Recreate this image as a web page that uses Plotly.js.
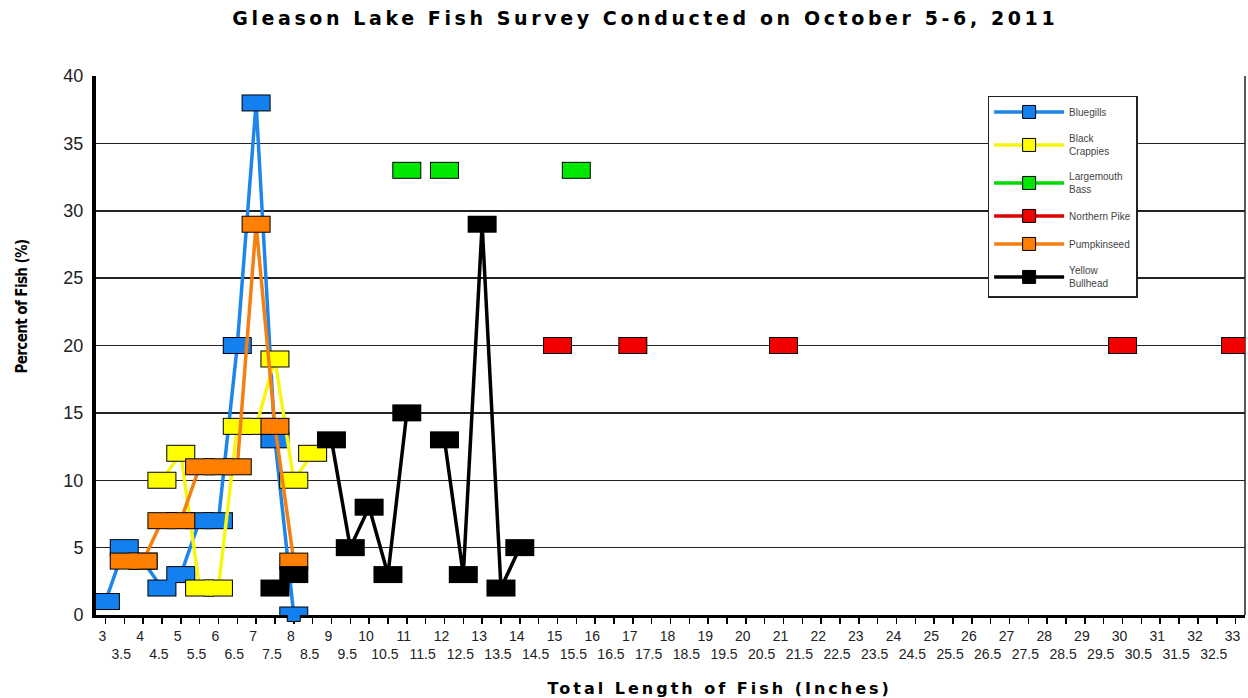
<!DOCTYPE html>
<html>
<head>
<meta charset="utf-8">
<script src="https://cdn.plot.ly/plotly-3.0.1.min.js"></script>
<style>
  html, body { margin: 0; padding: 0; background: #ffffff; }
  #chart { width: 1248px; height: 698px; }
  .gtitle { letter-spacing: 3.6px; }
</style>
</head>
<body>
<div id="chart"></div>
<script>
// ---- categories / tick labels ----
var categories = [3,3.5,4,4.5,5,5.5,6,6.5,7,7.5,8,8.5,9,9.5,10,10.5,11,11.5,12,12.5,13,13.5,14,14.5,15,15.5,16,16.5,17,17.5,18,18.5,19,19.5,20,20.5,21,21.5,22,22.5,23,23.5,24,24.5,25,25.5,26,26.5,27,27.5,28,28.5,29,29.5,30,30.5,31,31.5,32,32.5,33];
var tickLabels = ["3","3.5","4","4.5","5","5.5","6","6.5","7","7.5","8","8.5","9","9.5","10","10.5","11","11.5","12","12.5","13","13.5","14","14.5","15","15.5","16","16.5","17","17.5","18","18.5","19","19.5","20","20.5","21","21.5","22","22.5","23","23.5","24","24.5","25","25.5","26","26.5","27","27.5","28","28.5","29","29.5","30","30.5","31","31.5","32","32.5","33"];

// ---- series (null = empty category, breaks the line) ----
var bluegillsX = [3,3.5,4,4.5,5,5.5,6,6.5,7,7.5,8];
var bluegillsY = [1,5,4,2,3,7,7,20,38,13,0];

var crappiesX = [4.5,5,5.5,6,6.5,7,7.5,8,8.5];
var crappiesY = [10,12,2,2,14,14,19,10,12];

var bassX = [11,11.5,12,12.5,15.5];
var bassY = [33,null,33,null,33];

var pikeX = [15,15.5,17,17.5,21,21.5,30,30.5,33];
var pikeY = [20,null,20,null,20,null,20,null,20];

var pumpkinseedX = [3.5,4,4.5,5,5.5,6,6.5,7,7.5,8];
var pumpkinseedY = [4,4,7,7,11,11,11,29,14,4];

var bullheadX = [7.5,8,8.5,9,9.5,10,10.5,11,11.5,12,12.5,13,13.5,14];
var bullheadY = [2,3,null,13,5,8,3,15,null,13,3,29,2,5];

var seriesNames = ["Bluegills","Black<br>Crappies","Largemouth<br>Bass","Northern Pike","Pumpkinseed","Yellow<br>Bullhead"];

var series = [
  {name: seriesNames[0], x: bluegillsX, y: bluegillsY, fill: '#1480F0', line: '#1E86EA'},
  {name: seriesNames[1], x: crappiesX, y: crappiesY, fill: '#FFFF00', line: '#F6F610'},
  {name: seriesNames[2], x: bassX, y: bassY, fill: '#00E800', line: '#00D800'},
  {name: seriesNames[3], x: pikeX, y: pikeY, fill: '#F20000', line: '#E00000'},
  {name: seriesNames[4], x: pumpkinseedX, y: pumpkinseedY, fill: '#FF7F00', line: '#F57F10'},
  {name: seriesNames[5], x: bullheadX, y: bullheadY, fill: '#000000', line: '#000000'}
];

var traces = [];
series.forEach(function (s, i) {
  var fx = [], fy = [];
  for (var k = 0; k < s.x.length; k++) {
    if (s.y[k] !== null) { fx.push(s.x[k]); fy.push(s.y[k]); }
  }
  // line + legend entry
  traces.push({
    type: 'scatter', mode: 'lines+markers', name: s.name,
    x: s.x, y: s.y, connectgaps: false, cliponaxis: false,
    legendgroup: 'g' + i,
    line: {color: s.line, width: 3.5},
    marker: {symbol: 'square', size: 13, color: s.fill, line: {color: '#000', width: 1}},
    hoverinfo: 'skip'
  });
  // rectangular marker: black outline
  traces.push({
    type: 'scatter', mode: 'markers', x: fx, y: fy, showlegend: false, cliponaxis: false,
    legendgroup: 'g' + i,
    marker: {opacity: 0, size: 2},
    error_x: {type: 'constant', value: 0.385, thickness: 17, width: 0, color: '#000000'},
    hoverinfo: 'skip'
  });
  // rectangular marker: coloured fill
  traces.push({
    type: 'scatter', mode: 'markers', x: fx, y: fy, showlegend: false, cliponaxis: false,
    legendgroup: 'g' + i,
    marker: {opacity: 0, size: 2},
    error_x: {type: 'constant', value: 0.358, thickness: 15, width: 0, color: s.fill},
    hoverinfo: 'skip'
  });
});

var tickText = tickLabels.map(function (t, i) { return i % 2 === 1 ? '<br>' + t : t; });

var layout = {
  width: 1248, height: 698,
  paper_bgcolor: '#ffffff', plot_bgcolor: '#ffffff',
  margin: {l: 96, r: 3, t: 76, b: 83},
  showlegend: true,
  title: {
    text: 'Gleason Lake Fish Survey Conducted on October 5-6, 2011',
    font: {family: 'DejaVu Sans', size: 19, color: '#000', weight: 'bold'},
    xref: 'container', yref: 'container', x: 0.517, xanchor: 'center', y: 0.973, yanchor: 'middle'
  },
  xaxis: {
    range: [2.75, 33.25], fixedrange: true,
    tickmode: 'array', tickvals: categories, ticktext: tickText,
    tickangle: 0,
    ticks: 'outside', ticklen: 6, tickwidth: 1.5, tickcolor: '#000',
    tickfont: {family: 'Liberation Sans, Arial, sans-serif', size: 14, color: '#222'},
    ticklabelshift: -3,
    showgrid: false, zeroline: false,
    showline: true, linecolor: '#000', linewidth: 3,
    layer: 'below traces'
  },
  yaxis: {
    range: [0, 40], fixedrange: true,
    tickmode: 'linear', tick0: 0, dtick: 5,
    ticks: '', ticklabelstandoff: 5,
    tickfont: {family: 'Liberation Sans, Arial, sans-serif', size: 18, color: '#222'},
    showgrid: true, gridcolor: '#222', gridwidth: 1.5,
    zeroline: false,
    showline: true, linecolor: '#000', linewidth: 4,
    layer: 'below traces'
  },
  annotations: [
    {text: 'Total Length of Fish (Inches)', xref: 'paper', yref: 'paper',
     x: 0.543, y: -0.1355, xanchor: 'center', yanchor: 'middle', showarrow: false,
     font: {family: 'DejaVu Sans', size: 16, color: '#000', weight: 'bold'}},
    {text: 'Percent of Fish (%)', xref: 'paper', yref: 'paper', textangle: -90,
     x: -0.0644, y: 0.571, xanchor: 'center', yanchor: 'middle', showarrow: false,
     font: {family: 'Liberation Sans Narrow, DejaVu Sans Condensed, sans-serif', size: 15, color: '#000', weight: 'bold'}}
  ],
  shapes: [
    {type: 'line', xref: 'paper', yref: 'paper', x0: 1, x1: 1, y0: 0, y1: 1, layer: 'below',
     line: {color: '#222', width: 1.5}}
  ],
  legend: {
    orientation: 'v',
    x: 0.776, y: 0.963, xanchor: 'left', yanchor: 'top',
    bgcolor: '#ffffff', bordercolor: '#222', borderwidth: 1.5,
    font: {family: 'Liberation Sans, Arial, sans-serif', size: 10, color: '#444'},
    tracegroupgap: 9, itemwidth: 70
  }
};

Plotly.newPlot('chart', traces, layout, {displayModeBar: false, staticPlot: true}).then(function () {
  var ann = document.querySelectorAll('.annotation-text');
  if (ann[0]) ann[0].style.letterSpacing = '3px';
  if (ann[1]) ann[1].style.letterSpacing = '-0.6px';
});
</script>
</body>
</html>
